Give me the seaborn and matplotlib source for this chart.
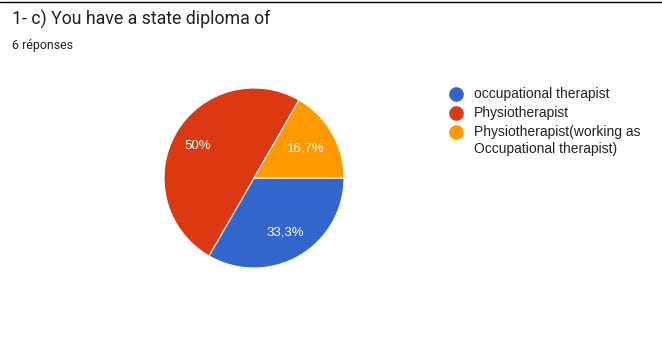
import matplotlib
matplotlib.use("Agg")
import matplotlib.pyplot as plt
from matplotlib.lines import Line2D
import numpy as np
import seaborn as sns

# Survey answers: "You have a state diploma of"
categories = ["occupational therapist", "Physiotherapist",
              "Physiotherapist(working as\nOccupational therapist)"]
counts = [2, 3, 1]
pct_labels = ["33,3%", "50%", "16,7%"]
colors = ["#3366CC", "#DC3912", "#FF9900"]

title = "1- c) You have a state diploma of"
subtitle = "6 réponses"

sns.set_theme(style="white")
plt.rcParams["font.family"] = ["Liberation Sans", "DejaVu Sans"]

fig = plt.figure(figsize=(6.62, 3.48), dpi=100)
fig.patch.set_facecolor("white")

W, H = 662, 348
cx, cy, r = 254, 178, 90
ax = fig.add_axes([(cx - r) / W, (H - cy - r) / H, 2 * r / W, 2 * r / H])

wedges, _ = ax.pie(counts, colors=colors, startangle=0, counterclock=False,
                   radius=1.0,
                   wedgeprops=dict(edgecolor="white", linewidth=0.8))
ax.set_xlim(-1, 1)
ax.set_ylim(-1, 1)
ax.set_aspect("equal")
ax.axis("off")

# percentage labels placed along each wedge's mid-angle
dist = [0.7, 0.72, 0.66]
for w, lab, d in zip(wedges, pct_labels, dist):
    mid = np.deg2rad((w.theta1 + w.theta2) / 2)
    ax.text(d * np.cos(mid), d * np.sin(mid), lab, color="white",
            ha="center", va="center", fontsize=9.5)

# legend: round markers with labels, first text line aligned to the marker
row_y = [94, 113, 132]
line_step = 17
for c, lab, y in zip(colors, categories, row_y):
    fig.add_artist(Line2D([456 / W], [1 - y / H], marker="o", markersize=9.5,
                          markerfacecolor=c, markeredgecolor=c, linestyle="",
                          transform=fig.transFigure))
    for k, part in enumerate(lab.split("\n")):
        fig.text(474 / W, 1 - (y + k * line_step) / H, part, fontsize=10,
                 color="#222222", ha="left", va="center")

fig.text(12 / W, 1 - 19 / H, title, fontsize=12.75, family=["Roboto", "DejaVu Sans"],
         color="#202124", va="center", ha="left")
fig.text(12 / W, 1 - 46 / H, subtitle, fontsize=8.9, family=["Roboto", "DejaVu Sans"],
         color="#202124", va="center", ha="left")

# thin rule across the top edge
fig.add_artist(Line2D([0, 1], [1 - 1.5 / H, 1 - 1.5 / H], color="black",
                      linewidth=1.0, transform=fig.transFigure))

fig.savefig("out.png", dpi=100, facecolor="white")
